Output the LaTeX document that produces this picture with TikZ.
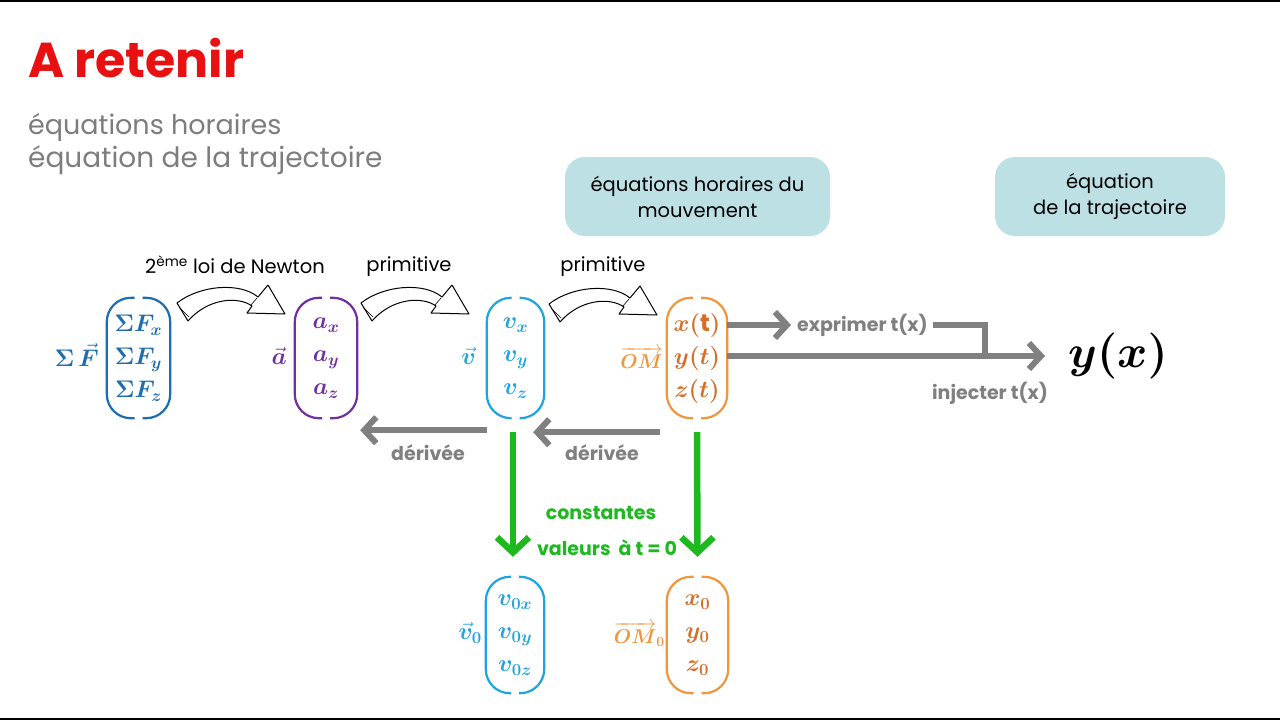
\RequirePackage{fix-cm}
\documentclass[tikz,border=0pt]{standalone}
\usepackage{amsmath,bm}
\usepackage{fontspec}
\setmainfont{Poppins}
\usetikzlibrary{arrows.meta}
\definecolor{cF}{RGB}{30,110,175}
\definecolor{ca}{RGB}{112,48,160}
\definecolor{cv}{RGB}{30,165,225}
\definecolor{cO}{RGB}{240,150,60}
\definecolor{cOd}{RGB}{215,110,40}
\definecolor{gr}{RGB}{128,128,128}
\definecolor{grn}{RGB}{30,185,30}
\definecolor{boxc}{RGB}{188,224,228}
\definecolor{tred}{RGB}{232,16,16}
\definecolor{subg}{RGB}{125,125,125}
\newcommand\vbrackets[2]{%
  \draw[#2, line width=2.2pt, rounded corners=24pt]
    ([xshift=-4pt]#1.north) -- (#1.north west) -- (#1.south west) -- ([xshift=-4pt]#1.south);
  \draw[#2, line width=2.2pt, rounded corners=24pt]
    ([xshift=4pt]#1.north) -- (#1.north east) -- (#1.south east) -- ([xshift=4pt]#1.south);}
\tikzset{
  vecnode/.style={minimum width=#1, minimum height=120pt, inner sep=0pt, align=center,
    font=\fontsize{24}{33}\selectfont},
  veclabel/.style={font=\fontsize{24}{26}\selectfont, inner sep=0pt},
  topbox/.style={fill=boxc, rounded corners=20pt, minimum height=79pt, align=center,
    font=\fontsize{19.5}{26}\selectfont, inner sep=0pt},
  handlabel/.style={font=\fontsize{19.5}{22}\selectfont, inner sep=0pt},
  graylabel/.style={text=gr, font=\bfseries\fontsize{19}{22}\selectfont, inner sep=0pt},
  garrow/.style={draw=gr, line width=6pt, -{Straight Barb[length=12pt, width=26pt]}},
  gline/.style={draw=gr, line width=6pt},
  grarrow/.style={draw=grn, line width=6.5pt, -{Straight Barb[length=15pt, width=32pt]}},
  hollowarrow/.pic={
    \draw[fill=white, line width=1pt, line join=round]
      (0,0) .. controls (23,-18) and (63,-21) .. (81,-6) -- (91,-18) -- (108,11)
      -- (70,10) -- (75,3) .. controls (61,-7) and (31,-5) .. (11,18) -- cycle;
    \draw[line width=0.6pt] (2,4) -- (12,14);
    \draw[line width=0.6pt] (74,2) -- (80,-5);
  }
}
\begin{document}
\begin{tikzpicture}[x=1pt, y=-1pt]
\useasboundingbox (0,0) rectangle (1280,720);
\fill[white] (0,0) rectangle (1280,720);
\fill[black] (0,0) rectangle (1280,2);
\fill[black] (0,718) rectangle (1280,720);

% titles
\node[anchor=base west, text=tred, font=\bfseries\fontsize{49}{54}\selectfont, inner sep=0pt] (title) at (28,77) {A retenir};
\node[anchor=base west, text=subg, font=\fontsize{27}{32}\selectfont, inner sep=0pt] (sub1) at (28,134) {équations horaires};
\node[anchor=base west, text=subg, font=\fontsize{28}{32}\selectfont, inner sep=0pt] (sub2) at (28,167) {équation de la trajectoire};

% top boxes
\node[topbox, minimum width=265pt] (box1) at (697.5,196.5) {équations horaires du\\mouvement};
\node[topbox, minimum width=230pt] (box2) at (1110,196.5) {équation\\de la trajectoire};

% vectors
\node[vecnode=63pt, text=cF] (F) at (138.5,358) {$\bm{\Sigma F_x}$\\$\bm{\Sigma F_y}$\\$\bm{\Sigma F_z}$};
\vbrackets{F}{cF}
\node[veclabel, text=cF, anchor=east] (Fl) at (99,355) {$\bm{\Sigma}\mkern3mu\vec{\bm F}$};

\node[vecnode=62pt, text=ca] (a) at (326,358) {$\bm{a_x}$\\$\bm{a_y}$\\$\bm{a_z}$};
\vbrackets{a}{ca}
\node[veclabel, text=ca, anchor=east] (al) at (287,356) {$\vec{\bm a}$};

\node[vecnode=57pt, text=cv] (v) at (515.5,358) {$\bm{v_x}$\\$\bm{v_y}$\\$\bm{v_z}$};
\vbrackets{v}{cv}
\node[veclabel, text=cv, anchor=east] (vl) at (476,356) {$\vec{\bm v}$};

\node[vecnode=60pt, text=cOd] (OM) at (697,358) {$\bm{x(\mathrm{t})}$\\$\bm{y(t)}$\\$\bm{z(t)}$};
\vbrackets{OM}{cO}
\node[veclabel, text=cO, anchor=east, font=\fontsize{20}{24}\selectfont] (OMl) at (663,358) {$\overrightarrow{\bm{OM}}$};

\node[vecnode=58pt, minimum height=116pt, text=cv] (v0) at (515,635) {$\bm{v_{0x}}$\\$\bm{v_{0y}}$\\$\bm{v_{0z}}$};
\vbrackets{v0}{cv}
\node[veclabel, text=cv, anchor=east] (v0l) at (482,633) {$\vec{\bm v}_{\bm 0}$};

\node[vecnode=61pt, minimum height=116pt, text=cOd] (OM0) at (697.5,635) {$\bm{x_0}$\\$\bm{y_0}$\\$\bm{z_0}$};
\vbrackets{OM0}{cO}
\node[veclabel, text=cO, anchor=east, font=\fontsize{20}{24}\selectfont] (OM0l) at (665,634) {$\overrightarrow{\bm{OM}}_{\bm 0}$};

% hollow arrows and labels
\pic (h1) at (177,303) {hollowarrow};
\pic (h2) at (361,303) {hollowarrow};
\pic (h3) at (549,304) {hollowarrow};
\node[handlabel] (newton) at (235,265) {2\textsuperscript{ème} loi de Newton};
\node[handlabel] (prim1) at (409,267) {primitive};
\node[handlabel] (prim2) at (603,267) {primitive};

% trajectory
\node[font=\fontsize{46}{50}\selectfont, inner sep=0pt, anchor=west] (yx) at (1068,356) {$\bm{y(x)}$};
\node[graylabel, anchor=west] (expr) at (797,325) {exprimer t(x)};
\node[graylabel] (inj) at (990,393) {injecter t(x)};
\coordinate (jn) at (985,356);
\draw[garrow] (OM.east |- expr.west) -- ([xshift=-6pt]expr.west);
\draw[gline] ([xshift=5pt]expr.east) -| (jn);
\draw[garrow] (OM.east |- yx.west) -- ([xshift=-23pt]yx.west);

% derivatives
\draw[garrow] ([xshift=-7pt,yshift=-14pt]OM.south west) -- ([xshift=-11pt,yshift=-14pt]v.south east);
\draw[garrow] ([xshift=0pt,yshift=-12pt]v.south west) -- ([xshift=3pt,yshift=-12pt]a.south east);
\node[graylabel] (d1) at (428,453) {dérivée};
\node[graylabel] (d2) at (602,453) {dérivée};

% constants
\draw[grarrow] ([xshift=-2.5pt,yshift=-14pt]v.south) -- ([xshift=-2pt,yshift=20pt]v0.north);
\draw[grarrow] ([yshift=-14pt]OM.south) -- ([yshift=20pt]OM0.north);
\node[text=grn, font=\bfseries\fontsize{19}{22}\selectfont, inner sep=0pt] (const) at (601,513) {constantes};
\node[text=grn, font=\bfseries\fontsize{19}{22}\selectfont, inner sep=0pt] (vals) at (607,548) {valeurs~ à t = 0};
\end{tikzpicture}
\end{document}
